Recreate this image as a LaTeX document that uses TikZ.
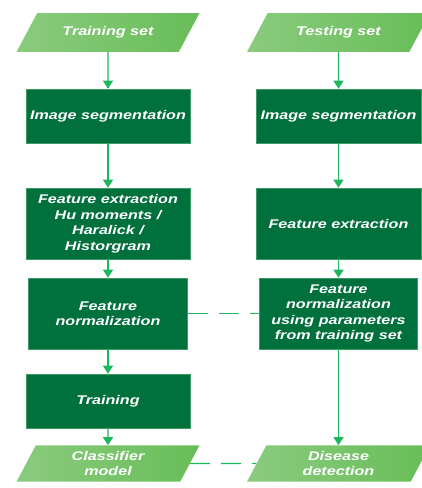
\documentclass[tikz,border=0pt]{standalone}
\usepackage{fontspec}
\setmainfont{Liberation Sans}[FakeStretch=1.28]
\usetikzlibrary{shapes.geometric,arrows.meta}

\definecolor{boxgreen}{HTML}{00703C}
\definecolor{boxedge}{HTML}{3D9C63}
\definecolor{linkgreen}{HTML}{1FB75C}
\definecolor{datalight}{HTML}{8ACB7E}
\definecolor{datadark}{HTML}{68BD58}

\begin{document}
\begin{tikzpicture}[
  every node/.style={text=white,align=center,
    font=\fontsize{12.6}{15.5}\selectfont\bfseries\itshape},
  proc/.style={rectangle,fill=boxgreen,draw=boxedge,line width=0.6pt,
    minimum width=164pt,minimum height=54pt},
  data/.style={trapezium,trapezium left angle=62,trapezium right angle=118,
    trapezium stretches body,minimum width=183pt,inner ysep=13.6pt,
    left color=datalight,right color=datadark},
  twolines/.style={inner ysep=5.8pt},
  flow/.style={draw=linkgreen,line width=1.3pt,-{Triangle[width=10pt,length=8pt]}},
  link/.style={draw=linkgreen,line width=1.3pt,dash pattern=on 20pt off 11pt}
]
  \useasboundingbox (0,0) rectangle (422pt,-488pt);

  % training branch
  \node[data] (trainset) at (108pt,-32.5pt) {Training set};
  \node[proc] (segtrain) [below of=trainset,node distance=83.5pt] {Image segmentation};
  \node[proc,minimum height=71pt] (feattrain) [below of=segtrain,node distance=107.5pt]
    {Feature extraction\\Hu moments /\\Haralick /\\Historgram};
  \node[proc,minimum height=71pt,minimum width=159pt] (normtrain)
    [below of=feattrain,node distance=90pt] {Feature\\normalization};
  \node[proc] (training) [below of=normtrain,node distance=87.5pt] {Training};
  \node[data,twolines] (classifier) [below of=training,node distance=62.5pt] {Classifier\\model};

  % testing branch
  \node[data] (testset) [right of=trainset,node distance=230.5pt] {Testing set};
  \node[proc,minimum width=165pt] (segtest) [below of=testset,node distance=83.5pt]
    {Image segmentation};
  \node[proc,minimum height=71pt,minimum width=165pt] (feattest)
    [below of=segtest,node distance=107.5pt] {Feature extraction};
  \node[proc,minimum height=71pt,minimum width=158pt] (normtest)
    [below of=feattest,node distance=90pt]
    {Feature\\normalization\\using parameters\\from training set};
  \node[data,twolines] (detection) [below of=normtest,node distance=150pt] {Disease\\detection};

  \draw[flow] (trainset) -- (segtrain);
  \draw[flow] (segtrain) -- (feattrain);
  \draw[flow] (feattrain) -- (normtrain);
  \draw[flow] (normtrain) -- (training);
  \draw[flow] (training) -- (classifier);

  \draw[flow] (testset) -- (segtest);
  \draw[flow] (segtest) -- (feattest);
  \draw[flow] (feattest) -- (normtest);
  \draw[flow] (normtest) -- (detection);

  \draw[link] (normtrain) -- (normtest);
  \draw[link] (classifier) -- (detection);
\end{tikzpicture}
\end{document}
